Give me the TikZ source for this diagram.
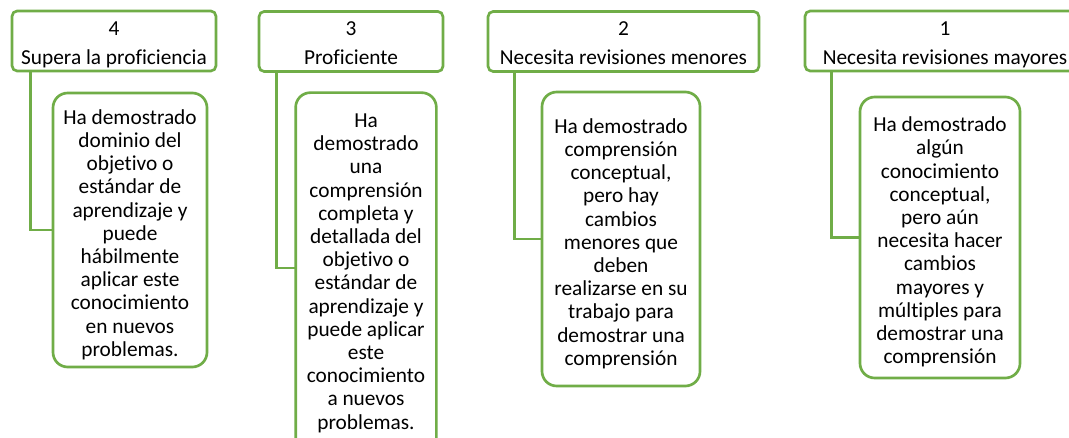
\documentclass[tikz,border=0pt]{standalone}
\usepackage{fontspec}
\setmainfont[Ligatures={NoCommon}]{Carlito}
\definecolor{grn}{HTML}{70AD47}
\newcommand\myTopR{\rule{0pt}{20.5pt}}
\newcommand\myHdrR{\rule{0pt}{18.2pt}}
\newcommand\myBotR{\rule[-5.2pt]{0pt}{0pt}}
\tikzset{
  hdr/.style={draw=grn, line width=2pt, rounded corners=4pt, fill=white,
    align=center, inner sep=0pt, minimum height=44.25pt,
    font=\fontsize{16}{17.4}\selectfont},
  child/.style={draw=grn, line width=2pt, rounded corners=11pt, fill=white,
    align=center, inner sep=0pt, font=\fontsize{16}{17.4}\selectfont},
  border/.style={draw=grn, line width=2pt, rounded corners=11pt},
  conn/.style={draw=grn, line width=2pt}
}
\begin{document}
\begin{tikzpicture}[x=0.75pt,y=-0.75pt]
\useasboundingbox (0,0) rectangle (1069,438);
\clip (0,0) rectangle (1069,438);
\fill[white] (0,0) rectangle (1069,438);

% headers
\node[hdr, minimum width=153pt] (h4) at (114,41) {\myHdrR 4\\[4.3pt]Supera la proficiencia\myBotR};
\node[hdr, minimum width=138pt] (h3) at (351,41.5) {\myHdrR 3\\[4.3pt]Proficiente\myBotR};
\node[hdr, minimum width=203.25pt] (h2) at (623.5,41.5) {\myHdrR 2\\[4.3pt]Necesita revisiones menores\myBotR};
\node[hdr, minimum width=210pt] (h1) at (945,41) {\myHdrR 1\\[4.3pt]Necesita revisiones mayores\myBotR};

% children
\node[child, minimum width=115.5pt, minimum height=205.5pt] (c4) at (130,230)
  {\myTopR Ha demostrado\\dominio del\\objetivo o\\estándar de\\aprendizaje y\\puede\\hábilmente\\aplicar este\\conocimiento\\en nuevos\\problemas.\myBotR};
\node[child, draw=none, minimum width=103.5pt, minimum height=261pt] (c3) at (366,268)
  {\myTopR Ha\\demostrado\\una\\comprensión\\completa y\\detallada del\\objetivo o\\estándar de\\aprendizaje y\\puede aplicar\\este\\conocimiento\\a nuevos\\problemas.\myBotR};
\draw[border] (c3.north west) rectangle ([yshift=-30pt]c3.south east);
\node[child, minimum width=118.5pt, minimum height=220.5pt] (c2) at (621,239)
  {\myTopR Ha demostrado\\comprensión\\conceptual,\\pero hay\\cambios\\menores que\\deben\\realizarse en su\\trabajo para\\demostrar una\\comprensión\myBotR};
\node[child, minimum width=120pt, minimum height=210.75pt] (c1) at (940,237.5)
  {\myTopR Ha demostrado\\algún\\conocimiento\\conceptual,\\pero aún\\necesita hacer\\cambios\\mayores y\\múltiples para\\demostrar una\\comprensión\myBotR};

% connectors
\draw[conn] ([xshift=15pt]h4.south west) |- (c4.west);
\draw[conn] ([xshift=14.25pt]h3.south west) |- (c3.west);
\draw[conn] ([xshift=21pt]h2.south west) |- (c2.west);
\draw[conn] ([xshift=21pt]h1.south west) |- (c1.west);
\end{tikzpicture}
\end{document}
